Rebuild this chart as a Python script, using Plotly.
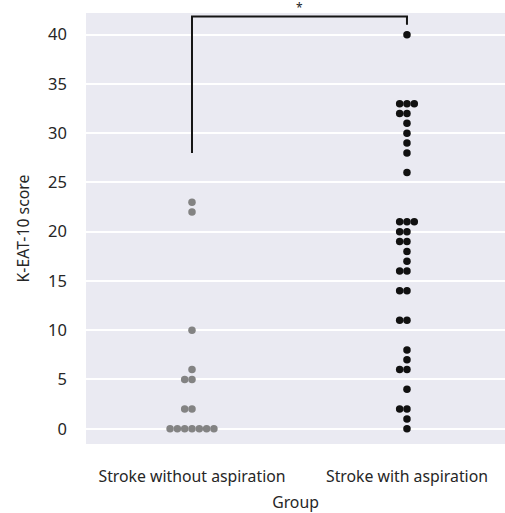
import plotly.graph_objects as go
from collections import Counter

# ---- data ----
groups = ["Stroke without aspiration", "Stroke with aspiration"]
scores_without = [0, 0, 0, 0, 0, 0, 0, 2, 2, 5, 5, 6, 10, 22, 23]
scores_with = [0, 1, 2, 2, 4, 6, 6, 7, 8, 11, 11, 14, 14, 16, 16, 17, 18,
               19, 19, 20, 20, 21, 21, 21, 26, 28, 29, 30, 31, 32, 32,
               33, 33, 33, 40]
group_colors = ["#838383", "#111111"]
y_ticks = [0, 5, 10, 15, 20, 25, 30, 35, 40]

# significance bracket (data units)
sig_left_y = 28
sig_top_y = 41.85
sig_right_y = 41.0
sig_label = "*"

# ---- swarm offsets (deterministic beeswarm for tied values) ----
dot_step = 0.034  # in category units
order = [0, -1, 1, -2, 2, -3, 3, -4, 4]


def swarm(vals, center):
    seen = Counter()
    xs, ys = [], []
    for v in sorted(vals):
        k = seen[v]
        seen[v] += 1
        xs.append(center + order[k] * dot_step)
        ys.append(v)
    return xs, ys


fig = go.Figure()
for i, vals in enumerate([scores_without, scores_with]):
    xs, ys = swarm(vals, i)
    fig.add_trace(go.Scatter(
        x=xs, y=ys, mode="markers",
        marker=dict(size=7.5, color=group_colors[i], line=dict(width=0)),
        showlegend=False, cliponaxis=False, hoverinfo="y"))

# bracket
fig.add_trace(go.Scatter(
    x=[0, 0, 1, 1], y=[sig_left_y, sig_top_y, sig_top_y, sig_right_y],
    mode="lines", line=dict(color="#151515", width=2),
    showlegend=False, hoverinfo="skip", cliponaxis=False))
fig.add_annotation(x=0.5, y=sig_top_y, yshift=9, text=sig_label,
                   showarrow=False, font=dict(size=12, color="#222222"))

font_family = "Noto Sans"
fig.update_layout(
    width=505, height=513,
    margin=dict(l=86, r=0, t=13, b=69),
    paper_bgcolor="white", plot_bgcolor="#EAEAF2",
    font=dict(family=font_family, color="#262626"),
)
fig.update_xaxes(
    range=[-0.493, 1.456], tickvals=[0, 1], ticktext=groups,
    showgrid=False, zeroline=False, showline=False, ticks="",
    tickfont=dict(size=15.8), ticklabelstandoff=21, automargin=False,
    title=dict(text="Group", font=dict(size=15.8), standoff=11),
)
fig.update_yaxes(
    range=[-1.55, 42.2], tickvals=y_ticks,
    showgrid=True, gridcolor="white", gridwidth=1.5,
    zeroline=False, showline=False, ticks="",
    tickfont=dict(size=16.5), ticklabelstandoff=18, automargin=False,
    title=dict(text="K-EAT-10 score", font=dict(size=15.8), standoff=14),
)

fig.write_html(
    "out.html",
    config={"displayModeBar": False},
    post_script="document.body.style.margin='0';document.body.style.overflow='hidden';",
)
